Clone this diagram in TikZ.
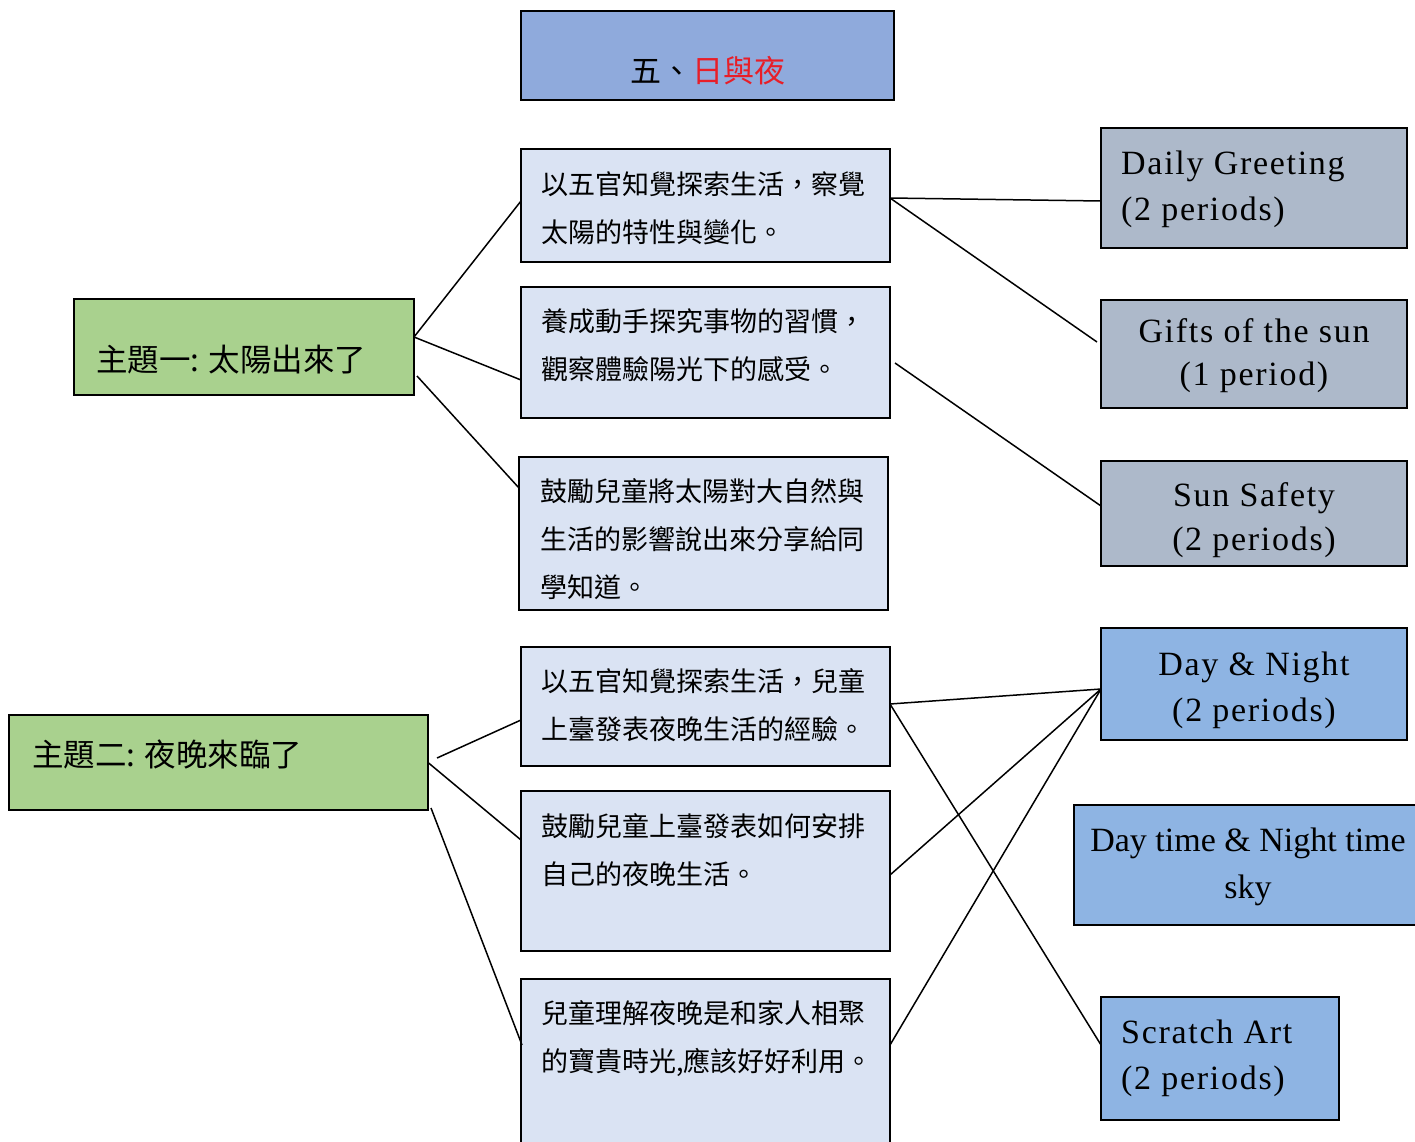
\documentclass[tikz,border=0pt]{standalone}
\usepackage{fontspec}
\setmainfont{Liberation Serif}
\newfontfamily\cjk{Noto Sans CJK TC}
\newfontfamily\lat[LetterSpace=5]{Liberation Serif}
\definecolor{titleblue}{RGB}{143,170,220}
\definecolor{paleblue}{RGB}{218,227,243}
\definecolor{topicgreen}{RGB}{169,209,142}
\definecolor{slategray}{RGB}{173,185,202}
\definecolor{skyblue}{RGB}{142,180,227}
\definecolor{titlered}{RGB}{232,30,40}
\begin{document}
\begin{tikzpicture}[x=1pt,y=-1pt,
  box/.style={draw=black, line width=1.8pt, anchor=north west, inner sep=0pt, outer sep=0pt},
  conn/.style={line width=1.5pt, draw=black},
  cjktxt/.style={anchor=base west, inner sep=0pt, align=left, font=\cjk\fontsize{27}{48}\selectfont},
  topictxt/.style={anchor=base west, inner sep=0pt, font=\cjk\fontsize{31.5}{36}\selectfont},
  lattxt/.style={anchor=base west, inner sep=0pt, align=left, font=\lat\fontsize{34}{46}\selectfont},
  latctr/.style={anchor=base, inner sep=0pt, align=center, font=\lat\fontsize{34}{46}\selectfont}]
\useasboundingbox (0,0) rectangle (1415,1142);
\clip (0,0) rectangle (1415,1142);

% title
\node[box, fill=titleblue, minimum width=373pt, minimum height=89pt] (T) at (521,11) {};
\node[anchor=base, inner sep=0pt, font=\cjk\fontsize{31}{31}\selectfont] (Tt) at ([yshift=-72pt]T.north) {五、\textcolor{titlered}{日與夜}};

% topics
\node[box, fill=topicgreen, minimum width=340pt, minimum height=96pt] (G1) at (74,299) {};
\node[topictxt] (G1t) at ([xshift=22pt,yshift=-72pt]G1.north west) {主題一: 太陽出來了};
\node[box, fill=topicgreen, minimum width=419pt, minimum height=95pt] (G2) at (9,715) {};
\node[topictxt] (G2t) at ([xshift=23pt,yshift=-51pt]G2.north west) {主題二: 夜晚來臨了};

% middle boxes (anchor = baseline of last line)
\node[box, fill=paleblue, minimum width=369pt, minimum height=113pt] (A1) at (521,149) {};
\node[cjktxt] (A1t) at ([xshift=20pt,yshift=-93pt]A1.north west) {以五官知覺探索生活，察覺\\太陽的特性與變化。};
\node[box, fill=paleblue, minimum width=369pt, minimum height=131pt] (A2) at (521,287) {};
\node[cjktxt] (A2t) at ([xshift=20pt,yshift=-92pt]A2.north west) {養成動手探究事物的習慣，\\觀察體驗陽光下的感受。};
\node[box, fill=paleblue, minimum width=369pt, minimum height=153pt] (A3) at (519,457) {};
\node[cjktxt] (A3t) at ([xshift=21pt,yshift=-140pt]A3.north west) {鼓勵兒童將太陽對大自然與\\生活的影響說出來分享給同\\學知道。};

\node[box, fill=paleblue, minimum width=369pt, minimum height=119pt] (B1) at (521,647) {};
\node[cjktxt] (B1t) at ([xshift=20pt,yshift=-92pt]B1.north west) {以五官知覺探索生活，兒童\\上臺發表夜晚生活的經驗。};
\node[box, fill=paleblue, minimum width=369pt, minimum height=160pt] (B2) at (521,791) {};
\node[cjktxt] (B2t) at ([xshift=20pt,yshift=-93pt]B2.north west) {鼓勵兒童上臺發表如何安排\\自己的夜晚生活。};
\node[box, fill=paleblue, minimum width=369pt, minimum height=200pt] (B3) at (521,979) {};
\node[cjktxt] (B3t) at ([xshift=20pt,yshift=-92pt]B3.north west) {兒童理解夜晚是和家人相聚\\的寶貴時光,應該好好利用。};

% right boxes
\node[box, fill=slategray, minimum width=306pt, minimum height=120pt] (R1) at (1101,128) {};
\node[lattxt] (R1t) at ([xshift=20pt,yshift=-92pt]R1.north west) {Daily Greeting\\(2 periods)};
\node[box, fill=slategray, minimum width=306pt, minimum height=108pt] (R2) at (1101,300) {};
\node[latctr] (R2t) at ([yshift=-85pt]R2.north) {Gifts of the sun\\[-3pt](1 period)};
\node[box, fill=slategray, minimum width=306pt, minimum height=105pt] (R3) at (1101,461) {};
\node[latctr] (R3t) at ([yshift=-89pt]R3.north) {Sun Safety\\[-2pt](2 periods)};

\node[box, fill=skyblue, minimum width=306pt, minimum height=112pt] (R4) at (1101,628) {};
\node[latctr] (R4t) at ([yshift=-93pt]R4.north) {Day \& Night\\(2 periods)};
\node[box, fill=skyblue, minimum width=348pt, minimum height=120pt] (R5) at (1074,805) {};
\node[anchor=base, inner sep=0pt, align=center, font=\fontsize{34}{47}\selectfont] (R5t) at ([yshift=-93pt]R5.north) {Day time \& Night time\\sky};
\node[box, fill=skyblue, minimum width=238pt, minimum height=123pt] (R6) at (1101,997) {};
\node[lattxt] (R6t) at ([xshift=20pt,yshift=-92pt]R6.north west) {Scratch Art\\(2 periods)};

% connectors, topic 1
\draw[conn] ([yshift=10pt]G1.east) -- ([yshift=4.5pt]A1.west);
\draw[conn] ([yshift=10pt]G1.east) -- ([yshift=-27.5pt]A2.west);
\draw[conn] ([xshift=3pt,yshift=-29pt]G1.east) -- ([yshift=45.5pt]A3.west);
\draw[conn] ([yshift=7.5pt]A1.east) -- ([yshift=-13pt]R1.west);
\draw[conn] ([yshift=7.5pt]A1.east) -- ([xshift=-4pt,yshift=12pt]R2.west);
\draw[conn] ([xshift=5pt,yshift=-10.5pt]A2.east) -- ([yshift=7.5pt]R3.west);

% connectors, topic 2
\draw[conn] ([xshift=9pt,yshift=4.5pt]G2.east) -- ([yshift=-13.5pt]B1.west);
\draw[conn] (G2.east) -- ([yshift=31pt]B2.west);
\draw[conn] ([xshift=3pt,yshift=-45.5pt]G2.east) -- ([xshift=1pt,yshift=34pt]B3.west);
\draw[conn] ([yshift=2.5pt]B1.east) -- ([yshift=-5pt]R4.west);
\draw[conn] ([yshift=2.5pt]B1.east) -- ([yshift=13.5pt]R6.west);
\draw[conn] ([yshift=-4pt]B2.east) -- ([yshift=-5pt]R4.west);
\draw[conn] ([yshift=34pt]B3.east) -- ([yshift=-5pt]R4.west);
\end{tikzpicture}
\end{document}
